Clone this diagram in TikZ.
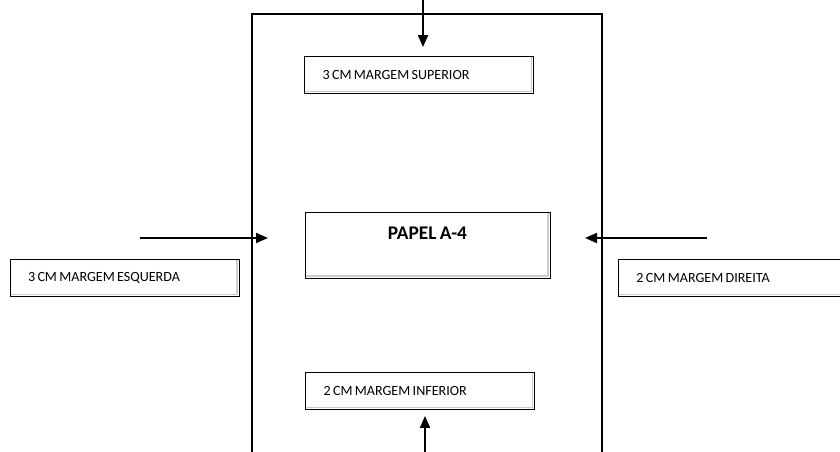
\documentclass[tikz,border=0pt]{standalone}
\usepackage{fontspec}
\setmainfont{Carlito}
\usetikzlibrary{positioning}
\usetikzlibrary{arrows.meta}
\usetikzlibrary{calc}
\newcommand\apertado{\spaceskip=0.17em\relax}
\tikzset{>={Triangle[length=2.4mm,width=2mm]}}
\tikzset{margem/.style={draw, line width=0.5pt, rectangle, inner xsep=0.36cm, inner ysep=0pt,
    minimum height=0.74cm, text width=3.86cm, align=left,
    font=\fontsize{8}{8}\selectfont, execute at begin node=\apertado,
    path picture={\draw[gray!40, line width=1pt]
      ([xshift=-1.2pt]path picture bounding box.north east)
      -- ([xshift=-1.2pt,yshift=1.2pt]path picture bounding box.south east)
      -- ([yshift=1.2pt]path picture bounding box.south west);}}}
\tikzset{seta/.style={->, line width=1.1pt}}
\tikzset{folha/.style={line width=0.6pt}}

\begin{document}
\begin{tikzpicture}
\useasboundingbox (0,0) rectangle (16.8,9.04);

% the A-4 sheet, open at the bottom
\draw[folha] (5.04,-0.2) -- (5.04,8.76) -- (12.04,8.76) -- (12.04,-0.2);

\node[margem] (sup) at (8.38,7.54) {3 CM MARGEM SUPERIOR};
\node[margem] (inf) at (8.40,1.22) {2 CM MARGEM INFERIOR};
\node[margem] (esq) at (2.49,3.48) {3 CM MARGEM ESQUERDA};
\node[margem, anchor=west] (dir) at (12.36,3.48) {2 CM MARGEM DIREITA};

\node[margem, text width=4.18cm, align=center, inner ysep=0.14cm, text height=0.42cm,
  text depth=0.62cm, minimum height=1.32cm,
  font=\fontsize{11}{12}\selectfont\bfseries] (papel) at (8.55,4.14) {PAPEL A-4};

\coordinate (supin) at (8.46,9.2);
\coordinate (infin) at (8.50,-0.2);
\coordinate (esqin) at (2.80,4.28);
\coordinate (esqtip) at (5.36,4.28);
\coordinate (dirin) at (14.14,4.28);
\coordinate (dirtip) at (11.70,4.28);

\draw[seta] (supin) -- ($(supin |- sup.north)+(0,0.18)$);
\draw[seta] (infin) -- ($(infin |- inf.south)+(0,-0.12)$);
\draw[seta] (esqin) -- (esqtip);
\draw[seta] (dirin) -- (dirtip);
\end{tikzpicture}
\end{document}
